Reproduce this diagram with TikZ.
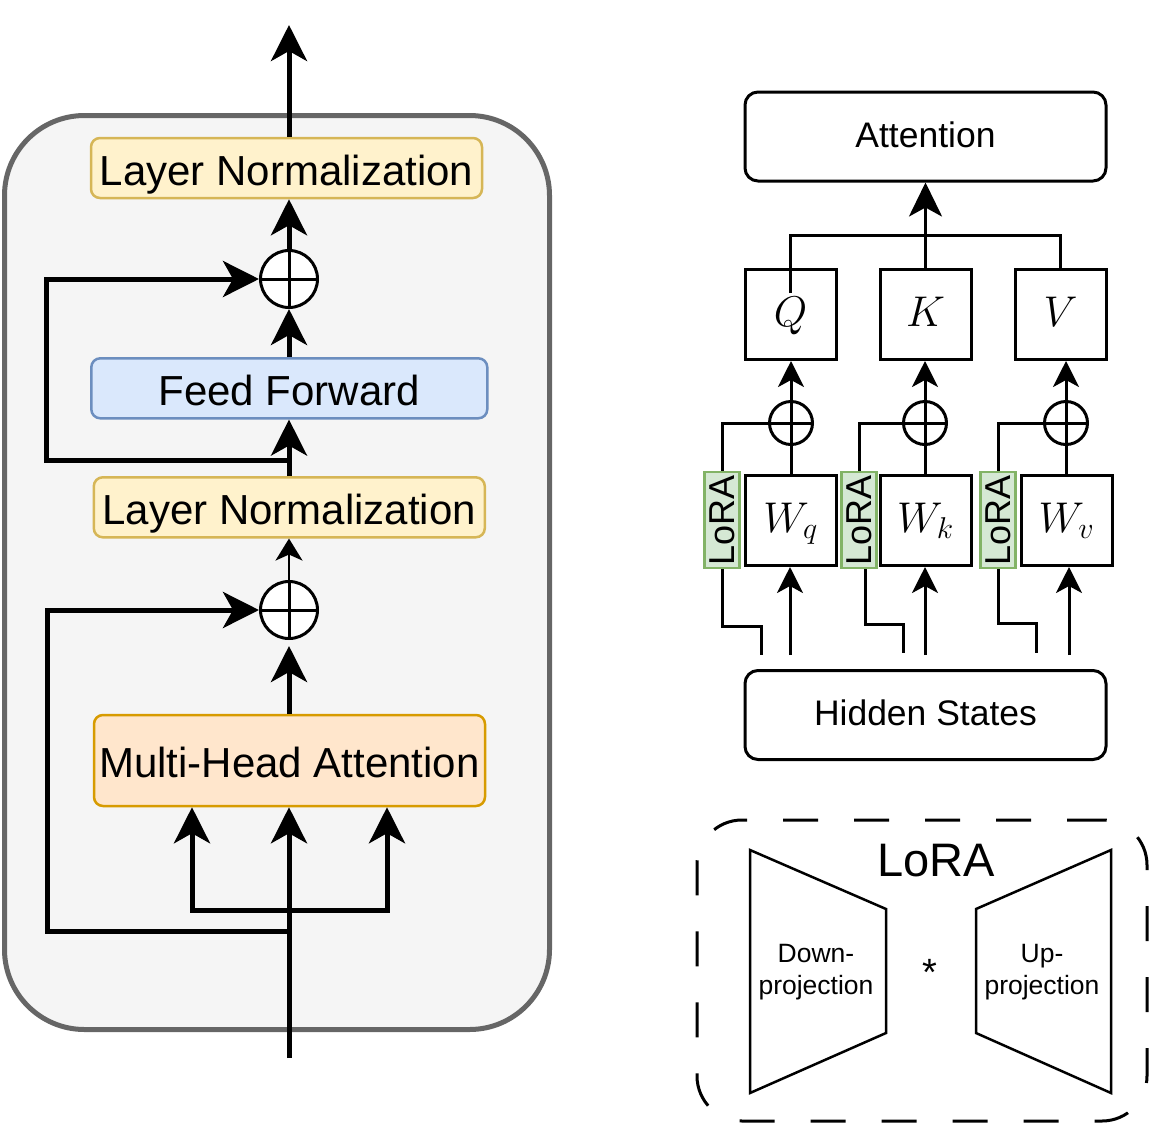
\RequirePackage{fix-cm}
\documentclass[tikz,border=0pt]{standalone}
\usepackage{fontspec}
\setmainfont{Liberation Sans}
\usetikzlibrary{arrows.meta,calc}
\definecolor{outerfill}{HTML}{F5F5F5}
\definecolor{outerline}{HTML}{666666}
\definecolor{lnfill}{HTML}{FFF2CC}
\definecolor{lnline}{HTML}{D6B656}
\definecolor{fffill}{HTML}{DAE8FC}
\definecolor{ffline}{HTML}{6C8EBF}
\definecolor{mhafill}{HTML}{FFE6CC}
\definecolor{mhaline}{HTML}{D79B00}
\definecolor{lorafill}{HTML}{D5E8D4}
\definecolor{loraline}{HTML}{82B366}
\begin{document}
\begin{tikzpicture}[x=1pt,y=-1pt,line join=miter,
  box/.style={draw, rounded corners=9pt, line width=2.5pt, inner sep=0pt,
    font=\fontsize{42}{50}\selectfont, text height=34pt, text depth=0pt},
  lnbox/.style={box, fill=lnfill, draw=lnline, minimum width=391pt, minimum height=60pt},
  ffbox/.style={box, fill=fffill, draw=ffline, minimum width=396pt, minimum height=60pt},
  mhabox/.style={box, fill=mhafill, draw=mhaline, minimum width=391pt, minimum height=91pt},
  pluscirc/.style={circle, draw, fill=white, inner sep=0pt,
    path picture={\draw[line width=#1]
      (path picture bounding box.north) -- (path picture bounding box.south)
      (path picture bounding box.west) -- (path picture bounding box.east);}},
  plusL/.style={pluscirc=3pt, line width=3pt, minimum size=57pt},
  plusR/.style={pluscirc=3pt, line width=3pt, minimum size=43pt},
  bigarr/.style={line width=5pt, -{Stealth[length=36pt,width=36pt,inset=10pt]}},
  thinarr/.style={line width=2pt, -{Stealth[length=22pt,width=27pt,inset=6pt]}},
  rline/.style={line width=3pt},
  rarr/.style={rline, -{Stealth[length=26pt,width=26pt,inset=7pt]}},
  attarr/.style={rline, -{Stealth[length=34pt,width=33pt,inset=9pt]}},
  rbox/.style={draw, line width=3pt, rounded corners=13pt, inner sep=0pt,
    minimum width=361pt, minimum height=89pt,
    font=\fontsize{35.5}{42}\selectfont, text height=21pt, text depth=0pt},
  sqbox/.style={draw, line width=3pt, inner sep=0pt, minimum width=91pt,
    minimum height=90pt, font=\fontsize{43}{50}\selectfont, text height=23pt, text depth=0pt},
  lorabox/.style={draw=loraline, fill=lorafill, line width=2.5pt, inner sep=0pt,
    minimum width=35pt, minimum height=96pt, font=\fontsize{36}{43}\selectfont},
  projtext/.style={align=center, font=\fontsize{26.5}{32}\selectfont, inner sep=0pt},
  trap/.style={line width=2.5pt}
]
\useasboundingbox (0,0) rectangle (1149,1125);

% ---------------- left block ----------------
\node[draw=outerline, fill=outerfill, line width=5pt, rounded corners=80pt,
  minimum width=545pt, minimum height=914pt, inner sep=0pt] (blk) at (277,572.5) {};

\node[lnbox] (ln1) at (286.5,168) {Layer Normalization};
\node[ffbox] (ff) at (289.3,388.3) {Feed Forward};
\node[lnbox] (ln2) at (289.3,507.3) {Layer Normalization};
\node[mhabox] (mha) at (289.5,760.5) {Multi-Head Attention};
\node[plusL] (c1) at (289,279) {};
\node[plusL] (c2) at (289,610) {};

\coordinate (top) at (289,25);
\coordinate (r1) at (289,460.5);
\coordinate (in) at (289,1058);
\coordinate (split) at (289,910);
\coordinate (splitL) at (192,910);
\coordinate (splitR) at (387,910);
\coordinate (r2) at (289,931);

\draw[bigarr] (ln1.north -| c1) -- (top);
\draw[bigarr] (c1.north) -- (c1.north |- ln1.south);
\draw[bigarr] (ff.north -| c1) -- (c1.south);
\draw[bigarr] (ln2.north -| c1) -- (ff.south -| c1);
\draw[bigarr] (r1) -- ++(-243,0) |- (c1.west);
\draw[thinarr] (c2.north) -- (c2.north |- ln2.south);
\draw[bigarr, shorten >=6pt] (mha.north -| c2) -- (c2.south);
\draw[bigarr] (in) -- (in |- mha.south);
\draw[bigarr] (split) -- (splitL) -- (splitL |- mha.south);
\draw[bigarr] (split) -- (splitR) -- (splitR |- mha.south);
\draw[bigarr] (r2) -- ++(-242,0) |- (c2.west);

% ---------------- right block ----------------
\node[rbox] (att) at (925.5,136.5) {Attention};
\node[sqbox] (q) at (790.5,314.5) {$Q$};
\node[sqbox] (k) at (925.5,314.5) {$K$};
\node[sqbox] (v) at (1060.5,314.5) {$V$};
\node[plusR] (pq) at (791,423) {};
\node[plusR] (pk) at (925,423) {};
\node[plusR] (pv) at (1066,423) {};
\node[sqbox] (wq) at (790.5,520.5) {$W_q$};
\node[sqbox] (wk) at (925.5,520.5) {$W_k$};
\node[sqbox] (wv) at (1066.5,520.5) {$W_v$};
\node[lorabox] (lq) at (722,520) {\rotatebox{90}{LoRA}};
\node[lorabox] (lk) at (859,520) {\rotatebox{90}{LoRA}};
\node[lorabox] (lv) at (998,520) {\rotatebox{90}{LoRA}};
\node[rbox] (hs) at (925.5,715) {Hidden States};

\coordinate (qin) at (790,293);
\coordinate (bus) at (925,235);
\draw[rline] (qin) |- (bus) -| (v.north);
\draw[attarr] (k.north) -- (att.south);

\draw[rline] (wq.north -| pq) -- (pq.south);
\draw[rline] (wk.north -| pk) -- (pk.south);
\draw[rline] (wv.north -| pv) -- (pv.south);
\draw[rarr] (pq.north) -- (pq.north |- q.south);
\draw[rarr] (pk.north) -- (pk.north |- k.south);
\draw[rarr] (pv.north) -- (pv.north |- v.south);
\draw[rline] (lq.north) |- (pq.west);
\draw[rline] (lk.north) |- (pk.west);
\draw[rline] (lv.north) |- (pv.west);

\coordinate (hq) at (790,655);
\coordinate (hk) at (925,655);
\coordinate (hv) at (1069,655);
\draw[rarr] (hq) -- (hq |- wq.south);
\draw[rarr] (hk) -- (hk |- wk.south);
\draw[rarr] (hv) -- (hv |- wv.south);

\coordinate (lqb) at (761,626);
\coordinate (lqc) at (761,655);
\coordinate (lkb) at (903,624);
\coordinate (lkc) at (903,653);
\coordinate (lvb) at (1036,623);
\coordinate (lvc) at (1036,653);
\draw[rline] (lq.south) |- (lqb) -- (lqc);
\draw[rline] ([xshift=6pt]lk.south) |- (lkb) -- (lkc);
\draw[rline] (lv.south) |- (lvb) -- (lvc);

% ---------------- LoRA legend ----------------
\node[draw, line width=3pt, dash pattern=on 35pt off 36pt, rounded corners=45pt,
  minimum width=450pt, minimum height=301pt, inner sep=0pt] (legend) at (922,970.5) {};
\node[anchor=base, font=\fontsize{47}{56}\selectfont, inner sep=0pt] (loratitle) at (936,876) {LoRA};
\draw[trap] (750,850) -- (886,909) -- (886,1033) -- (750,1093) -- cycle;
\draw[trap] (1111,850) -- (976,909) -- (976,1033) -- (1111,1093) -- cycle;
\node[projtext] (down) at (816,972) {Down-\\projection};
\node[projtext] (up) at (1042,972) {Up-\\projection};
\node[anchor=base, font=\fontsize{38}{44}\selectfont, inner sep=0pt] (star) at (930,985) {*};
\end{tikzpicture}
\end{document}
